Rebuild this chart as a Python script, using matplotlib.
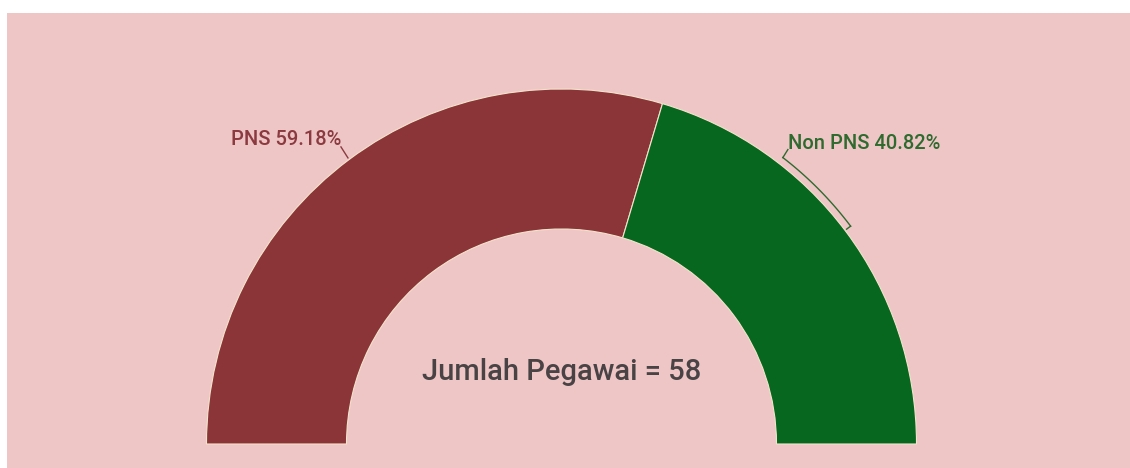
import numpy as np
import matplotlib
matplotlib.use('Agg')
import matplotlib.pyplot as plt
from matplotlib.patches import Rectangle

## Data
labels = ['PNS', 'Non PNS']
shares = [59.18, 40.82]  ## percent
total_staff = 58

## Style
bg_pink = '#EEC6C6'
colors = ['#8B3539', '#07671F']
text_colors = ['#8B3A40', '#2F6A2F']
plt.rcParams['font.family'] = ['Roboto', 'DejaVu Sans']

W, H = 1130, 468
fig = plt.figure(figsize=(W / 100, H / 100), dpi=100)
fig.patch.set_facecolor('white')
fig.patches.append(Rectangle((7 / W, 0), 1, (H - 13) / H, transform=fig.transFigure,
                             facecolor=bg_pink, edgecolor='none', zorder=-10))

ax = fig.add_axes([0, 0, 1, 1])
ax.set_facecolor('none')

cx, cy = 561.5, 24.0   ## centre of the half donut (pixel units, y up)
R, ring = 355, 140

## half donut: add an invisible wedge equal to the total so the visible part spans 180 deg
wedges, _ = ax.pie(shares + [sum(shares)], startangle=180, counterclock=False,
                   colors=colors + ['none'], radius=R, center=(cx, cy),
                   wedgeprops=dict(width=ring, edgecolor='#F3E4CC', linewidth=0.8))
wedges[-1].set_visible(False)

## PNS label with a short leader
a0 = 180 - shares[0] / 100 * 180 / 2
ra = np.radians(a0)
px, py = cx + (R + 2) * np.cos(ra), cy + (R + 2) * np.sin(ra)
ax.plot([px, px - 7], [py, py + 11], color='#8B3A40', lw=1)
ax.text(px - 7, py + 18, f'{labels[0]} {shares[0]:.2f}%', ha='right', va='center',
        fontsize=14.5, fontweight='medium', color=text_colors[0])

## Non PNS label with a bracket following the arc
b1, b2 = np.radians(52.3), np.radians(37.0)
t = np.linspace(b1, b2, 40)
rb = R + 7
bx, by = cx + rb * np.cos(t), cy + rb * np.sin(t)
ax.plot(bx, by, color='#2F6A2F', lw=1)
ax.plot([bx[-1], cx + (R + 2) * np.cos(b2)], [by[-1], cy + (R + 2) * np.sin(b2)],
        color='#2F6A2F', lw=1)
ax.plot([bx[0], bx[0] + 5], [by[0], by[0] + 8], color='#2F6A2F', lw=1)
ax.text(bx[0] + 5, by[0] + 14, f'{labels[1]} {shares[1]:.2f}%', ha='left', va='center',
        fontsize=14.5, fontweight='medium', color=text_colors[1])

## centre caption
ax.text(cx, 96, f'Jumlah Pegawai = {total_staff}', ha='center', va='center',
        fontsize=21, fontweight='medium', color='#4A4345')

ax.set_xlim(0, W)
ax.set_ylim(0, H)
ax.set_aspect('equal')
ax.axis('off')

fig.savefig('out.png', dpi=100)
